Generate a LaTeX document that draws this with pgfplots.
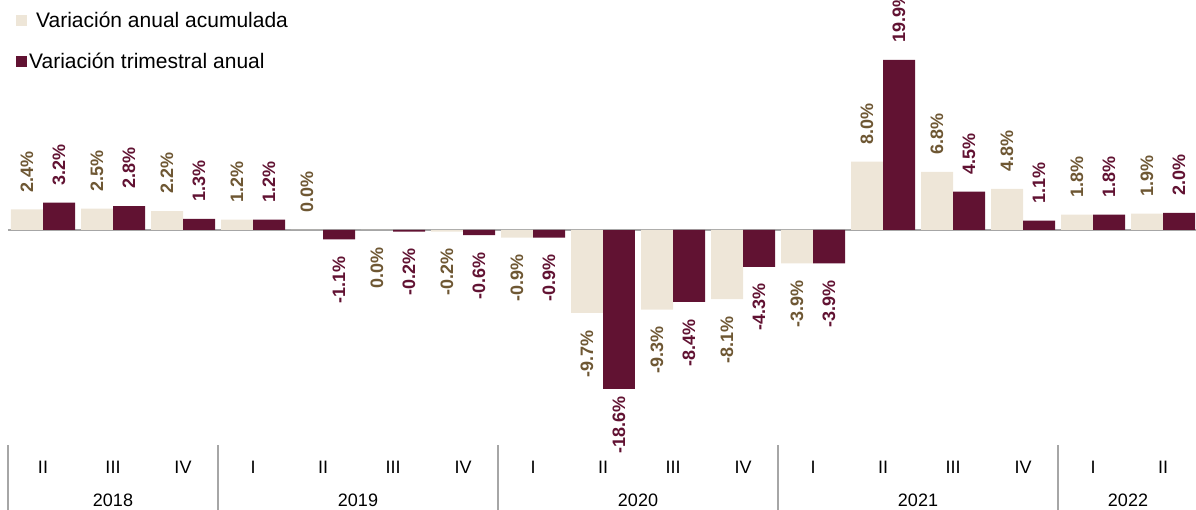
\documentclass[border=0pt]{standalone}
\usepackage{pgfplots}
\pgfplotsset{compat=1.18}
\usepackage{pgfplotstable}
\usepackage{fontspec}
\setmainfont{Liberation Sans}
\definecolor{beige}{HTML}{EEE6D8}
\definecolor{maroon}{HTML}{611232}
\definecolor{lblbrown}{HTML}{6E5733}
\definecolor{axgray}{HTML}{A6A6A6}

\pgfplotstableread{
x y
0 2.4
1 2.5
2 2.2
3 1.2
4 0.0
12 8.0
13 6.8
14 4.8
15 1.8
16 1.9
}\beigepos
\pgfplotstableread{
x y
5 0.0
6 -0.2
7 -0.9
8 -9.7
9 -9.3
10 -8.1
11 -3.9
}\beigeneg
\pgfplotstableread{
x y
0 3.2
1 2.8
2 1.3
3 1.2
12 19.9
13 4.5
14 1.1
15 1.8
16 2.0
}\maroonpos
\pgfplotstableread{
x y
4 -1.1
5 -0.2
6 -0.6
7 -0.9
9 -8.4
10 -4.3
11 -3.9
}\maroonneg
\pgfplotstableread{
x y
8 -18.6
}\maroonnegb

\begin{document}
\begin{tikzpicture}
\begin{axis}[
  at={(8pt,0pt)}, anchor=south west,
  scale only axis, width=1190pt, height=510pt,
  xmin=-0.5, xmax=16.5, ymin=-32.75, ymax=26.9,
  axis line style={draw=none},
  ytick=\empty,
  xtick={0,...,16},
  xticklabels={II,III,IV,I,II,III,IV,I,II,III,IV,I,II,III,IV,I,II},
  major tick length=0pt,
  xticklabel style={font=\fontsize{18}{18}\selectfont, anchor=center, yshift=43pt},
  clip=false,
  point meta=explicit symbolic,
  legend style={at={(axis description cs:0,1)}, anchor=north west, draw=none, fill=none,
    font=\fontsize{21}{24}\selectfont, row sep=20pt, inner sep=0pt, xshift=8pt, yshift=-10pt},
  legend cell align=left,
  legend image code/.code={\fill[#1] (0pt,-5.5pt) rectangle (11pt,5.5pt);},
  posl/.style 2 args={nodes near coords={\pgfplotspointmeta\%},
    every node near coord/.append style={xshift=#2, rotate=90, anchor=west, inner sep=0pt, xshift=17pt,
      font=\bfseries\fontsize{18}{18}\selectfont, text=#1}},
  negl/.style n args={3}{nodes near coords={\pgfplotspointmeta\%},
    every node near coord/.append style={xshift=#2, rotate=90, anchor=east, inner sep=0pt, xshift=-#3,
      font=\bfseries\fontsize{18}{18}\selectfont, text=#1}},
]
\draw[axgray, line width=2pt] (axis cs:-0.5,0) -- (axis cs:16.5,0);
\draw[axgray, line width=1.3pt] (axis cs:-0.5,-25.15) -- (axis cs:-0.5,-32.75);
\draw[axgray, line width=1.3pt] (axis cs:2.5,-25.15) -- (axis cs:2.5,-32.75);
\draw[axgray, line width=1.3pt] (axis cs:6.5,-25.15) -- (axis cs:6.5,-32.75);
\draw[axgray, line width=1.3pt] (axis cs:10.5,-25.15) -- (axis cs:10.5,-32.75);
\draw[axgray, line width=1.3pt] (axis cs:14.5,-25.15) -- (axis cs:14.5,-32.75);
\addplot[ybar, bar width=32pt, bar shift=-16pt, fill=beige, draw=none, posl={lblbrown}{-16pt}]
  table[x=x, y=y, meta=y] {\beigepos};
\addlegendentry{\hspace{7pt}Variación anual acumulada}
\addplot[ybar, bar width=32pt, bar shift=-16pt, fill=beige, draw=none, negl={lblbrown}{-16pt}{17pt}, forget plot]
  table[x=x, y=y, meta=y] {\beigeneg};
\addplot[ybar, bar width=32pt, bar shift=16pt, fill=maroon, draw=none, posl={maroon}{16pt}]
  table[x=x, y=y, meta=y] {\maroonpos};
\addlegendentry{Variación trimestral anual}
\addplot[ybar, bar width=32pt, bar shift=16pt, fill=maroon, draw=none, negl={maroon}{16pt}{17pt}, forget plot]
  table[x=x, y=y, meta=y] {\maroonneg};
\addplot[ybar, bar width=32pt, bar shift=16pt, fill=maroon, draw=none, negl={maroon}{16pt}{7pt}, forget plot]
  table[x=x, y=y, meta=y] {\maroonnegb};
\node[font=\fontsize{18}{18}\selectfont] at (axis cs:1,-31.6) {2018};
\node[font=\fontsize{18}{18}\selectfont] at (axis cs:4.5,-31.6) {2019};
\node[font=\fontsize{18}{18}\selectfont] at (axis cs:8.5,-31.6) {2020};
\node[font=\fontsize{18}{18}\selectfont] at (axis cs:12.5,-31.6) {2021};
\node[font=\fontsize{18}{18}\selectfont] at (axis cs:15.5,-31.6) {2022};
\end{axis}
\pgfresetboundingbox
\path[use as bounding box] (0,0) rectangle (1196pt,510pt);
\end{tikzpicture}
\end{document}
